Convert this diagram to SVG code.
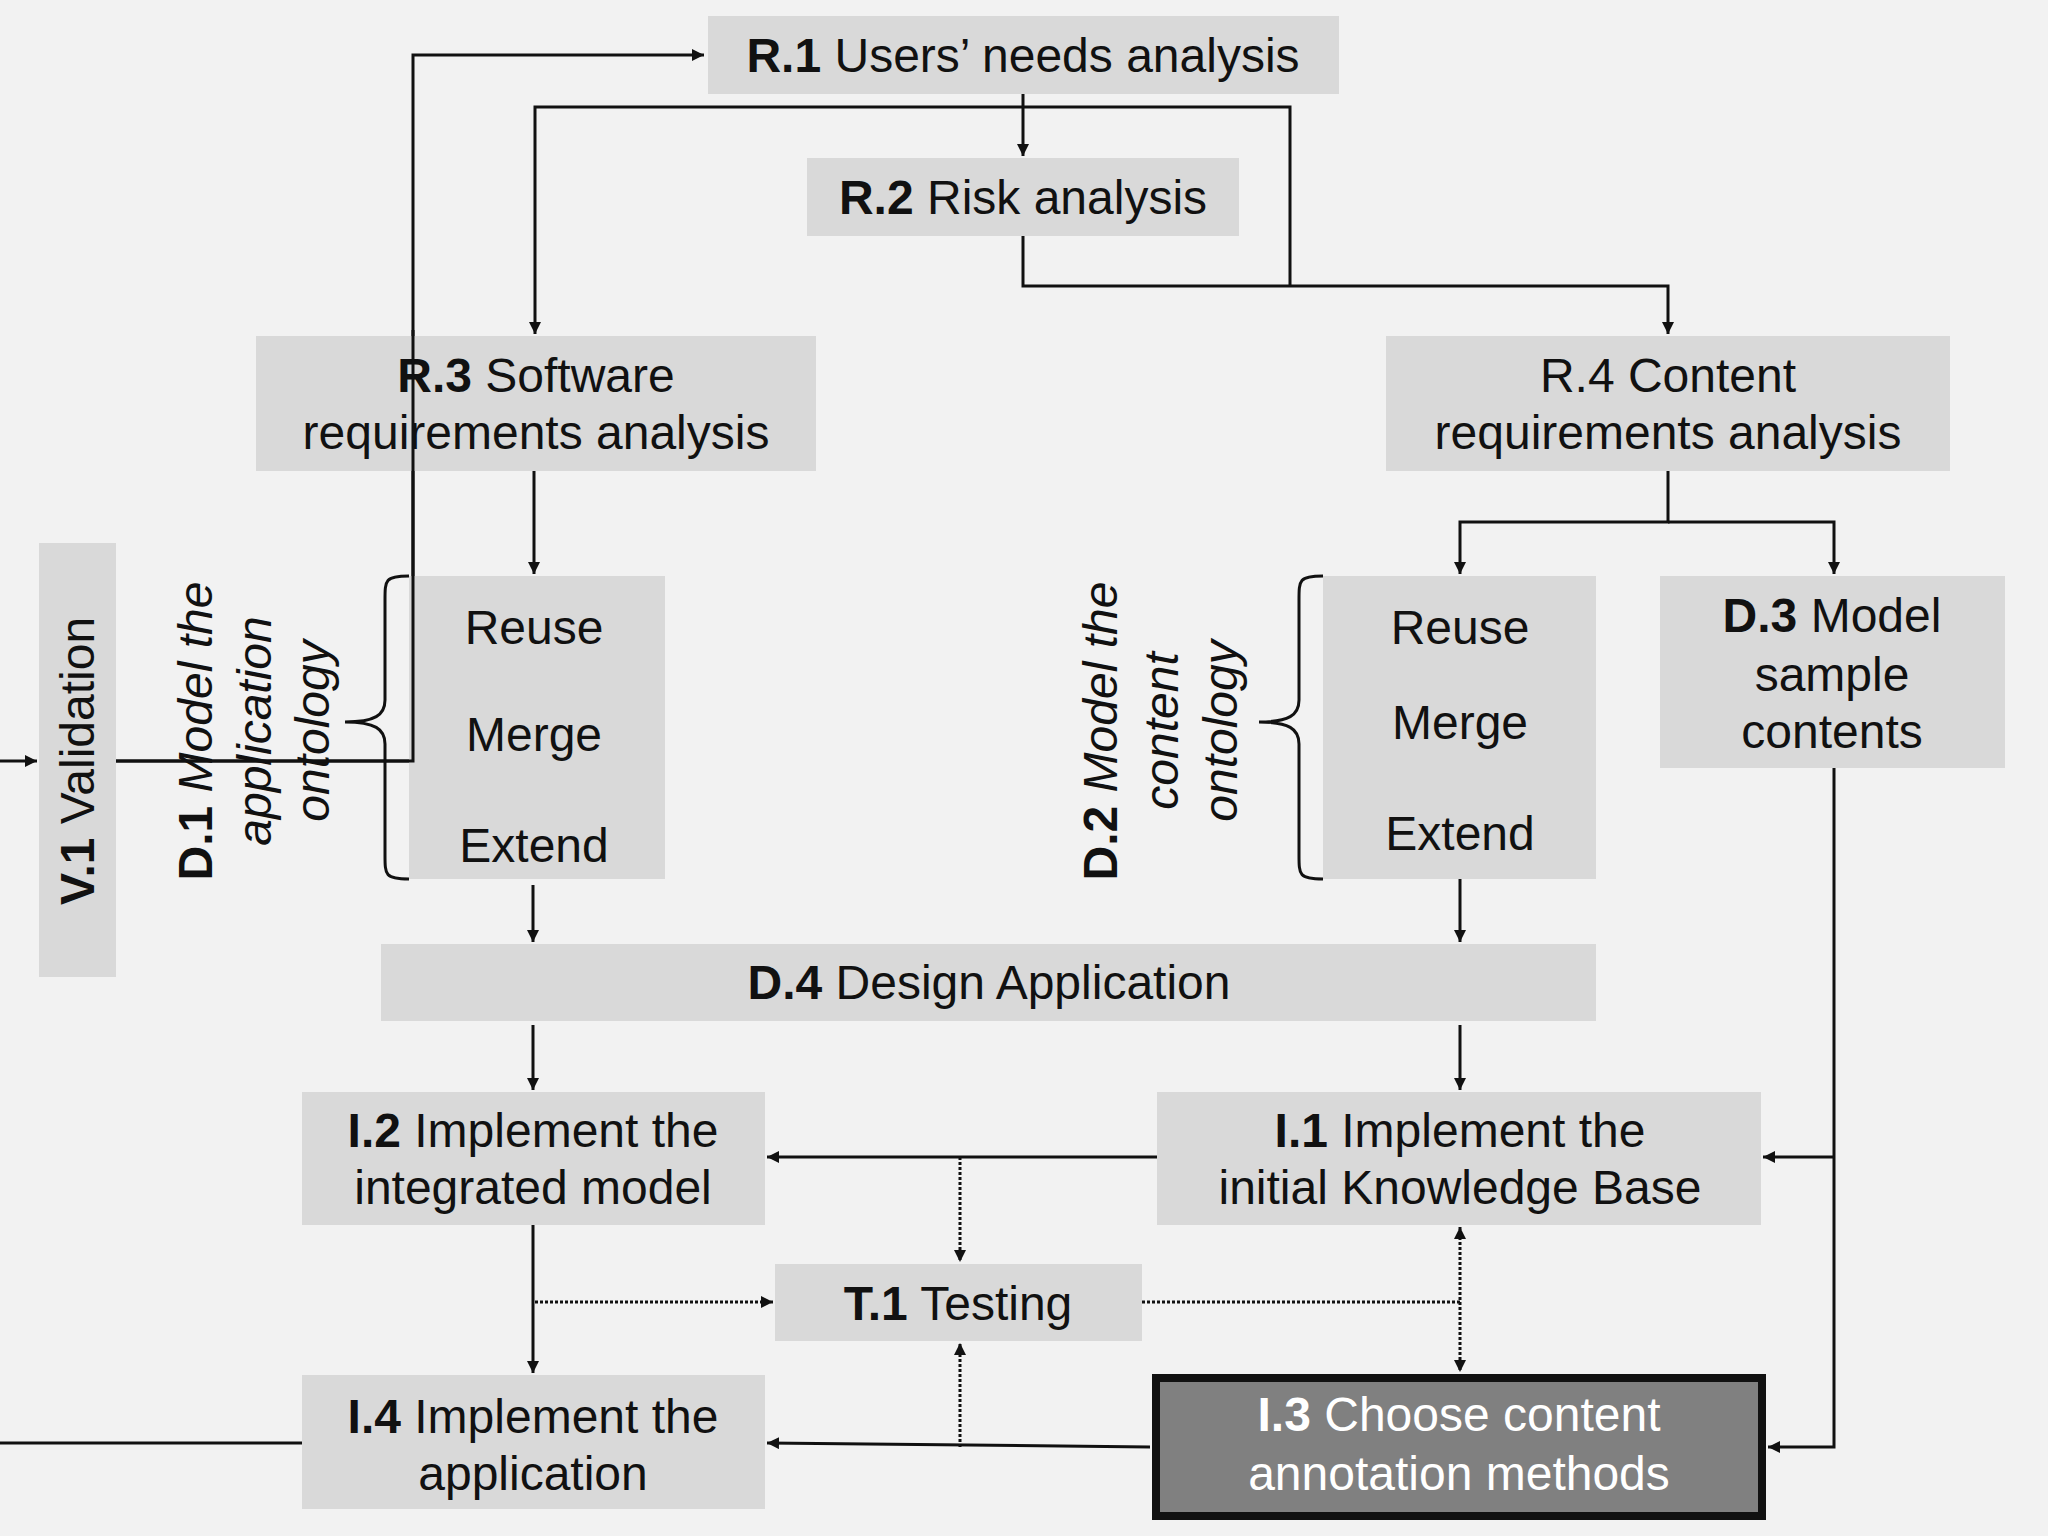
<svg xmlns="http://www.w3.org/2000/svg" width="2048" height="1536" viewBox="0 0 2048 1536">
<defs>
<marker id="a" viewBox="0 0 10 10" refX="10" refY="5" markerWidth="6" markerHeight="6" markerUnits="userSpaceOnUse" orient="auto"><path d="M0,0L10,5L0,10z" fill="#111"/></marker>
<marker id="as" viewBox="0 0 10 10" refX="10" refY="5" markerWidth="12" markerHeight="12" markerUnits="userSpaceOnUse" orient="auto-start-reverse"><path d="M0,0L10,5L0,10z" fill="#111"/></marker>
</defs>
<style>
.b{fill:#d9d9d9}
text{font-family:"Liberation Sans",Arial,sans-serif;font-size:48px;fill:#111;text-anchor:middle}
.bd{font-weight:bold}
.it{font-style:italic}
.c{fill:none;stroke:#111;stroke-width:3}
.d{fill:none;stroke:#111;stroke-width:3;stroke-dasharray:3 2}
</style>
<rect width="2048" height="1536" fill="#f2f2f2"/>
<g id="connectors">
<path class="c" d="M116,761H413V55H704" marker-end="url(#as)"/>
<path class="c" d="M0,761H37" marker-end="url(#as)"/>
<path class="c" d="M0,1443H302"/>
<path class="c" d="M1023,94V156" marker-end="url(#as)"/>
<path class="c" d="M1290,286V107H535V334" marker-end="url(#as)"/>
<path class="c" d="M1023,236V286H1668V334" marker-end="url(#as)"/>
<path class="c" d="M534,471V574" marker-end="url(#as)"/>
<path class="c" d="M534,669V690" marker-end="url(#as)"/>
<path class="c" d="M534,776V800" marker-end="url(#as)"/>
<path class="c" d="M533,885V942" marker-end="url(#as)"/>
<path class="c" d="M1668,471V522H1460V574" marker-end="url(#as)"/>
<path class="c" d="M1668,522H1834V574" marker-end="url(#as)"/>
<path class="c" d="M1460,666V682" marker-end="url(#as)"/>
<path class="c" d="M1460,764V792" marker-end="url(#as)"/>
<path class="c" d="M1460,879V942" marker-end="url(#as)"/>
<path class="c" d="M533,1025V1090" marker-end="url(#as)"/>
<path class="c" d="M1460,1025V1090" marker-end="url(#as)"/>
<path class="c" d="M1834,768V1447H1768" marker-end="url(#as)"/>
<path class="c" d="M1834,1157H1763" marker-end="url(#as)"/>
<path class="c" d="M1157,1157H767" marker-end="url(#as)"/>
<path class="d" d="M960,1157V1262" marker-end="url(#as)"/>
<path class="c" d="M533,1225V1373" marker-end="url(#as)"/>
<path class="d" d="M535,1302H773" marker-end="url(#as)"/>
<path class="d" d="M1142,1302H1460"/>
<path class="d" d="M1460,1227V1372" marker-start="url(#as)" marker-end="url(#as)"/>
<path class="c" d="M1150,1447L767,1443" marker-end="url(#as)"/>
<path class="d" d="M960,1447V1343" marker-end="url(#as)"/>
<path class="c" d="M409,576C385,576 385,580 385,600V700C385,715 375,722 345,722C375,722 385,729 385,744V855C385,875 385,879 409,879" stroke-width="4"/>
<path class="c" d="M1323,576C1299,576 1299,580 1299,600V700C1299,715 1289,722 1259,722C1289,722 1299,729 1299,744V855C1299,875 1299,879 1323,879" stroke-width="4"/>
</g>
<g id="R1"><rect class="b" x="708" y="16" width="631" height="78"/><text x="1023" y="72"><tspan class="bd">R.1</tspan> Users’ needs analysis</text></g>
<g id="R2"><rect class="b" x="807" y="158" width="432" height="78"/><text x="1023" y="214"><tspan class="bd">R.2</tspan> Risk analysis</text></g>
<g id="R3"><rect class="b" x="256" y="336" width="560" height="135"/><text x="536" y="392"><tspan class="bd">R.3</tspan> Software</text><text x="536" y="449">requirements analysis</text></g>
<path class="c" d="M413,330V500"/>
<g id="R4"><rect class="b" x="1386" y="336" width="564" height="135"/><text x="1668" y="392">R.4 Content</text><text x="1668" y="449">requirements analysis</text></g>
<g id="V1"><rect class="b" x="39" y="543" width="77" height="434"/><text transform="translate(94,761) rotate(-90)"><tspan class="bd">V.1</tspan>  Validation</text></g>
<g id="D1"><rect class="b" x="409" y="576" width="256" height="303"/><text x="534" y="644">Reuse</text><text x="534" y="751">Merge</text><text x="534" y="862">Extend</text>
<text transform="translate(212,731) rotate(-90)"><tspan class="bd">D.1</tspan><tspan class="it"> Model the</tspan></text>
<text class="it" transform="translate(271,731) rotate(-90)">application</text>
<text class="it" transform="translate(329,731) rotate(-90)">ontology</text></g>
<path class="c" d="M116,761H413V500"/>
<g id="D2"><rect class="b" x="1323" y="576" width="273" height="303"/><text x="1460" y="644">Reuse</text><text x="1460" y="739">Merge</text><text x="1460" y="850">Extend</text>
<text transform="translate(1117,731) rotate(-90)"><tspan class="bd">D.2</tspan><tspan class="it"> Model the</tspan></text>
<text class="it" transform="translate(1178,731) rotate(-90)">content</text>
<text class="it" transform="translate(1237,731) rotate(-90)">ontology</text></g>
<g id="D3"><rect class="b" x="1660" y="576" width="345" height="192"/><text x="1832" y="632"><tspan class="bd">D.3</tspan> Model</text><text x="1832" y="691">sample</text><text x="1832" y="748">contents</text></g>
<g id="D4"><rect class="b" x="381" y="944" width="1215" height="77"/><text x="989" y="999"><tspan class="bd">D.4</tspan> Design Application</text></g>
<g id="I2"><rect class="b" x="302" y="1092" width="463" height="133"/><text x="533" y="1147"><tspan class="bd">I.2</tspan> Implement the</text><text x="533" y="1204">integrated model</text></g>
<g id="I1"><rect class="b" x="1157" y="1092" width="604" height="133"/><text x="1460" y="1147"><tspan class="bd">I.1</tspan> Implement the</text><text x="1460" y="1204">initial Knowledge Base</text></g>
<g id="T1"><rect class="b" x="775" y="1264" width="367" height="77"/><text x="958" y="1320"><tspan class="bd">T.1</tspan>  Testing</text></g>
<g id="I4"><rect class="b" x="302" y="1375" width="463" height="134"/><text x="533" y="1433"><tspan class="bd">I.4</tspan> Implement the</text><text x="533" y="1490">application</text></g>
<g id="I3"><rect x="1156" y="1378" width="606" height="138" fill="#808080" stroke="#111" stroke-width="8"/><text x="1459" y="1431" style="fill:#fff"><tspan class="bd">I.3</tspan> Choose content</text><text x="1459" y="1490" style="fill:#fff">annotation methods</text></g>
</svg>
